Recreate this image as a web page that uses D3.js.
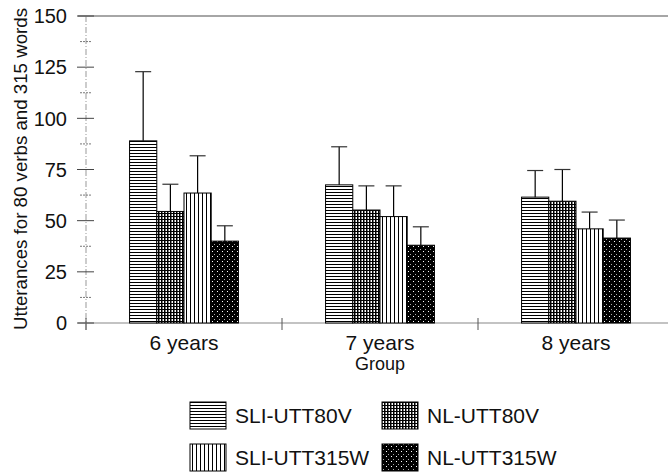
<!DOCTYPE html>
<html><head><meta charset="utf-8">
<script src="https://cdn.jsdelivr.net/npm/d3@7"></script>
<style>html,body{margin:0;padding:0;background:#fff;}svg{display:block;font-family:"Liberation Sans",Arial,sans-serif;}</style>
</head><body>
<svg id="c" width="668" height="473"></svg>
<script>
const groups = ["6 years", "7 years", "8 years"];
const series = ["SLI-UTT80V", "NL-UTT80V", "SLI-UTT315W", "NL-UTT315W"];
const sli80V  = [89.0, 67.5, 61.5];
const nl80V   = [54.5, 55.2, 59.5];
const sli315W = [63.5, 52.0, 46.0];
const nl315W  = [40.0, 38.0, 41.5];
const sli80VErr  = [33.8, 18.6, 13.0];
const nl80VErr   = [13.3, 11.8, 15.5];
const sli315WErr = [18.2, 15.0, 8.2];
const nl315WErr  = [7.5, 9.0, 8.8];
const yTicks = [0, 25, 50, 75, 100, 125, 150];
const yMinorTicks = [12.5, 37.5, 62.5, 87.5, 112.5, 137.5];

const values = [sli80V, nl80V, sli315W, nl315W];
const errs = [sli80VErr, nl80VErr, sli315WErr, nl315WErr];
const svg = d3.select("#c");

// patterns
const defs = svg.append("defs");
const pH = defs.append("pattern").attr("id","p0").attr("patternUnits","userSpaceOnUse").attr("width",3).attr("height",3);
pH.append("rect").attr("width",3).attr("height",3).attr("fill","#fff");
pH.append("rect").attr("width",3).attr("height",1).attr("fill","#000");
const pG = defs.append("pattern").attr("id","p1").attr("patternUnits","userSpaceOnUse").attr("width",3).attr("height",3);
pG.append("rect").attr("width",3).attr("height",3).attr("fill","#fff");
pG.append("rect").attr("width",1.5).attr("height",3).attr("fill","#000");
pG.append("rect").attr("width",3).attr("height",1).attr("fill","#000");
const pV = defs.append("pattern").attr("id","p2").attr("patternUnits","userSpaceOnUse").attr("width",4).attr("height",4);
pV.append("rect").attr("width",4).attr("height",4).attr("fill","#fff");
pV.append("rect").attr("width",1).attr("height",4).attr("fill","#000");
const pD = defs.append("pattern").attr("id","p3").attr("patternUnits","userSpaceOnUse").attr("width",5).attr("height",5);
pD.append("rect").attr("width",5).attr("height",5).attr("fill","#000");
pD.append("rect").attr("x",1).attr("y",1).attr("width",1).attr("height",1).attr("fill","#fff");
pD.append("rect").attr("x",3).attr("y",4).attr("width",1).attr("height",1).attr("fill","#aaa");
const fills = ["url(#p0)","url(#p1)","url(#p2)","url(#p3)"];

const y = d3.scaleLinear().domain([0,150]).range([323,16]);
const x0 = d3.scaleBand().domain(groups).range([86,674]).padding(0);
const x1 = d3.scaleBand().domain(series).range([0,x0.bandwidth()]).paddingInner(0).paddingOuter(1.6);

// top frame line
svg.append("line").attr("x1",78).attr("x2",668).attr("y1",y(150)).attr("y2",y(150)).attr("stroke","#888").attr("stroke-width",1.5);
// y axis line
svg.append("line").attr("x1",86).attr("x2",86).attr("y1",y(150)).attr("y2",330).attr("stroke","#999").attr("stroke-width",1).attr("stroke-dasharray","6,2,1,2");
// x axis line
svg.append("line").attr("x1",78).attr("x2",668).attr("y1",y(0)).attr("y2",y(0)).attr("stroke","#888").attr("stroke-width",1.2);

// y ticks
svg.selectAll(".ymaj").data(yTicks).enter().append("line")
  .attr("x1",77).attr("x2",94).attr("y1",d=>y(d)).attr("y2",d=>y(d)).attr("stroke","#444");
svg.selectAll(".ymin").data(yMinorTicks).enter().append("line")
  .attr("x1",80).attr("x2",92).attr("y1",d=>y(d)).attr("y2",d=>y(d)).attr("stroke","#777").attr("stroke-dasharray","2,1");
svg.selectAll(".ylab").data(yTicks).enter().append("text")
  .attr("x",67).attr("y",d=>y(d)).attr("dy","0.36em").attr("text-anchor","end")
  .attr("font-size",20).attr("fill","#111").text(d=>d);

// x group separators
const seps = groups.map(g=>x0(g));
svg.selectAll(".xsep").data(seps).enter().append("line")
  .attr("x1",d=>d).attr("x2",d=>d).attr("y1",318).attr("y2",330).attr("stroke","#555");

// bars
const gg = svg.selectAll(".grp").data(groups).enter().append("g").attr("transform",g=>`translate(${x0(g)},0)`);
series.forEach((s,si)=>{
  gg.append("rect")
    .attr("x",x1(s)).attr("width",x1.bandwidth())
    .attr("y",(g,gi)=>y(values[si][gi])).attr("height",(g,gi)=>y(0)-y(values[si][gi]))
    .attr("fill",fills[si]).attr("stroke","#000").attr("stroke-width",1);
  gg.append("line")
    .attr("x1",x1(s)+x1.bandwidth()/2).attr("x2",x1(s)+x1.bandwidth()/2)
    .attr("y1",(g,gi)=>y(values[si][gi])).attr("y2",(g,gi)=>y(values[si][gi]+errs[si][gi]))
    .attr("stroke","#000").attr("stroke-width",1.2);
  gg.append("line")
    .attr("x1",x1(s)+x1.bandwidth()/2-8).attr("x2",x1(s)+x1.bandwidth()/2+8)
    .attr("y1",(g,gi)=>y(values[si][gi]+errs[si][gi])).attr("y2",(g,gi)=>y(values[si][gi]+errs[si][gi]))
    .attr("stroke","#333").attr("stroke-width",1.2);
});

// group labels
svg.selectAll(".glab").data(groups).enter().append("text")
  .attr("x",g=>x0(g)+x0.bandwidth()/2).attr("y",350).attr("text-anchor","middle")
  .attr("font-size",21).attr("fill","#111").text(g=>g);
svg.append("text").attr("x",x0(groups[1])+x0.bandwidth()/2).attr("y",370).attr("text-anchor","middle")
  .attr("font-size",18).attr("fill","#111").text("Group");

// y label
svg.append("text").attr("transform","translate(27,169) rotate(-90)").attr("text-anchor","middle")
  .attr("font-size",18.7).attr("fill","#111").text("Utterances for 80 verbs and 315 words");

// legend
const legPos = [[190,402],[382,402],[190,444],[382,444]];
series.forEach((s,i)=>{
  const [lx,ly] = legPos[i];
  svg.append("rect").attr("x",lx).attr("y",ly).attr("width",36).attr("height",27)
    .attr("fill",fills[i]).attr("stroke","#000").attr("stroke-width",1);
  svg.append("text").attr("x",lx+45).attr("y",ly+20.5).attr("font-size",21).attr("fill","#111").text(s);
});
</script>
</body></html>
